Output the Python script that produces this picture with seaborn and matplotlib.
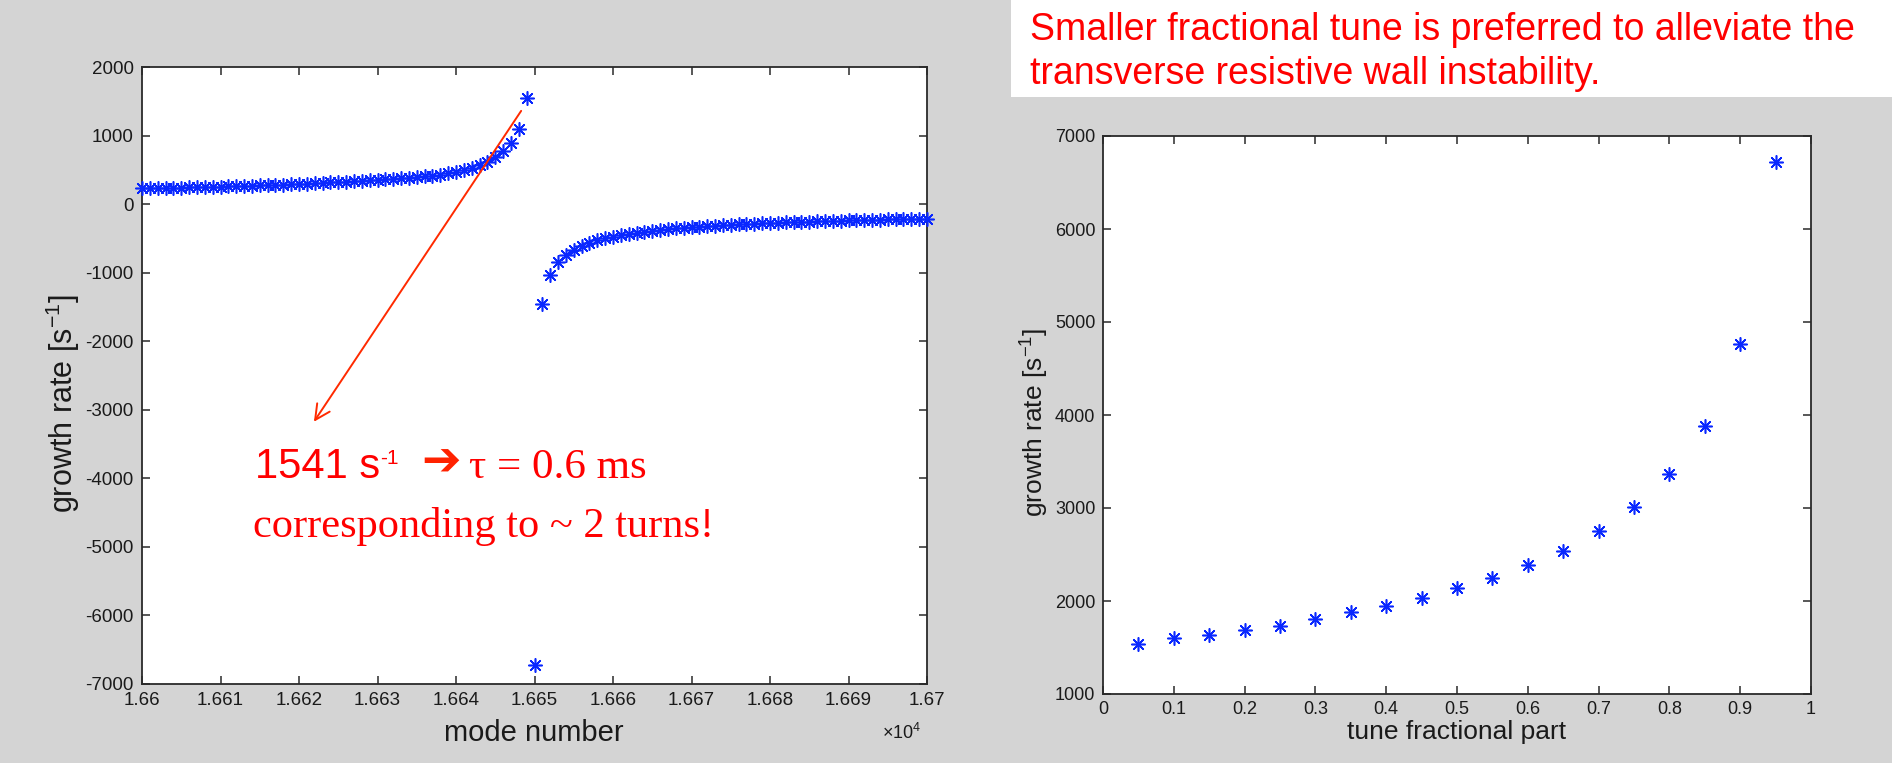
import numpy as np
import pandas as pd
import matplotlib
matplotlib.use("Agg")
import matplotlib.pyplot as plt
from matplotlib.patches import Rectangle
from matplotlib.ticker import FixedLocator, FuncFormatter
import seaborn as sns

# ---------------- data ----------------
# growth rate vs. mode number (below and above the resonance)
mode_low = list(range(16600, 16650))
rate_low = [230, 232, 234, 236, 238, 240, 243, 246, 249, 252,
            255, 258, 261, 264, 268, 272, 276, 280, 285, 290,
            295, 300, 305, 310, 316, 322, 328, 334, 340, 347,
            354, 361, 368, 376, 384, 393, 403, 415, 430, 450,
            475, 500, 530, 565, 620, 690, 770, 890, 1090, 1541]
mode_high = list(range(16650, 16701))
rate_high = [-6720, -1450, -1040, -850, -745, -670, -610, -565, -530, -500,
             -475, -452, -432, -415, -400, -386, -373, -362, -352, -343,
             -335, -327, -320, -313, -307, -301, -295, -290, -285, -280,
             -276, -272, -268, -264, -260, -256, -252, -248, -245, -242,
             -239, -236, -233, -230, -227, -224, -221, -218, -215, -212,
             -210]

# growth rate vs. fractional tune
tune_frac = [0.05, 0.10, 0.15, 0.20, 0.25, 0.30, 0.35, 0.40, 0.45, 0.50,
             0.55, 0.60, 0.65, 0.70, 0.75, 0.80, 0.85, 0.90, 0.95]
tune_rate = [1541, 1600, 1632, 1686, 1736, 1807, 1879, 1950, 2036, 2139,
             2243, 2386, 2539, 2750, 3011, 3361, 3886, 4760, 6720]

mode_ticks = list(range(16600, 16701, 10))
rate_ticks_left = list(range(-7000, 2001, 1000))
tune_ticks = [0, 0.1, 0.2, 0.3, 0.4, 0.5, 0.6, 0.7, 0.8, 0.9, 1.0]
rate_ticks_right = list(range(1000, 7001, 1000))

# arrow from the highest point down to the note
arrow_from = (16648.3, 1360)
arrow_to = (16621.9, -3175)

# ---------------- style ----------------
sns.set_theme(style="white")
plt.rcParams["font.family"] = ["Liberation Sans", "DejaVu Sans"]
plt.rcParams["mathtext.default"] = "regular"

BG = "#d4d4d4"
BLUE = "#0a28ff"
RED = "#ff0000"
AX_COL = "#2a2a2a"
W, H = 1892, 763

fig = plt.figure(figsize=(W / 100, H / 100), dpi=100, facecolor=BG)

def fx(px):
    return px / W

def fy(py):
    return 1 - py / H

ax1 = fig.add_axes([142 / W, (H - 684) / H, 785 / W, (684 - 67) / H])
ax2 = fig.add_axes([1103 / W, (H - 694) / H, 708 / W, (694 - 136) / H])

star = (8, 2, 0)
df_low = pd.DataFrame({"mode": mode_low, "rate": rate_low})
df_high = pd.DataFrame({"mode": mode_high, "rate": rate_high})
df_tune = pd.DataFrame({"tune": tune_frac, "rate": tune_rate})

for d in (df_low, df_high):
    sns.scatterplot(data=d, x="mode", y="rate", marker=star, s=95,
                    color=BLUE, linewidth=1.15, ax=ax1, zorder=3, clip_on=False)
sns.scatterplot(data=df_tune, x="tune", y="rate", marker=star, s=95,
                color=BLUE, linewidth=1.15, ax=ax2, zorder=3)

for ax in (ax1, ax2):
    ax.set_facecolor("white")
    ax.set_xlabel("")
    ax.set_ylabel("")
    for sp in ax.spines.values():
        sp.set_visible(True)
        sp.set_color(AX_COL)
        sp.set_linewidth(1.3)
    ax.tick_params(direction="in", length=5.5, width=1.1, color=AX_COL,
                   top=True, right=True, bottom=True, left=True,
                   labelcolor="#1a1a1a")

ax1.set_xlim(16600, 16700)
ax1.set_ylim(-7000, 2000)
ax1.xaxis.set_major_locator(FixedLocator(mode_ticks))
ax1.yaxis.set_major_locator(FixedLocator(rate_ticks_left))
ax1.xaxis.set_major_formatter(FuncFormatter(lambda v, p: f"{v / 1e4:g}"))
ax1.yaxis.set_major_formatter(FuncFormatter(lambda v, p: f"{v:.0f}"))
ax1.tick_params(axis="x", labelsize=13.5, pad=5.5)
ax1.tick_params(axis="y", labelsize=13.5, pad=6)

ax2.set_xlim(0, 1)
ax2.set_ylim(1000, 7000)
ax2.xaxis.set_major_locator(FixedLocator(tune_ticks))
ax2.yaxis.set_major_locator(FixedLocator(rate_ticks_right))
ax2.xaxis.set_major_formatter(FuncFormatter(lambda v, p: f"{v:g}"))
ax2.yaxis.set_major_formatter(FuncFormatter(lambda v, p: f"{v:.0f}"))
ax2.tick_params(axis="x", labelsize=13, pad=5)
ax2.tick_params(axis="y", labelsize=13, pad=5.5)

# axis labels
lab_font = ["Liberation Sans", "DejaVu Sans"]
fig.text(fx(534), fy(733), "mode number", ha="center", va="center",
         fontsize=21, color="#1a1a1a", family=lab_font)
fig.text(fx(902), fy(733), r"$\times$10$^{4}$", ha="center", va="center",
         fontsize=13, color="#1a1a1a", family=lab_font)
fig.text(fx(63), fy(404), r"growth rate [s$^{-1}$]", ha="center", va="center",
         rotation=90, fontsize=22, color="#1a1a1a", family=lab_font)
fig.text(fx(1457), fy(732), "tune fractional part", ha="center", va="center",
         fontsize=19, color="#1a1a1a", family=lab_font)
fig.text(fx(1035), fy(422), r"growth rate [s$^{-1}$]", ha="center", va="center",
         rotation=90, fontsize=19, color="#1a1a1a", family=lab_font)

# annotation arrow
ax1.annotate("", xy=arrow_to, xytext=arrow_from, xycoords="data",
             arrowprops=dict(arrowstyle="->,head_length=0.9,head_width=0.45",
                             color="#ff2a00", lw=1.4, shrinkA=0, shrinkB=0),
             zorder=4)

# note under the arrow
sans = ["Liberation Sans", "DejaVu Sans"]
serif = ["Liberation Serif", "DejaVu Serif"]
fig.text(fx(255), fy(478), "1541 s", fontsize=30, color=RED, family=sans,
         ha="left", va="baseline")
fig.text(fx(380), fy(464), "-1", fontsize=15, color=RED, family=sans,
         ha="left", va="baseline")
fig.text(fx(441), fy(463), "\u2794", fontsize=34, color="#ff2200",
         family=["DejaVu Sans"], weight="bold", ha="center", va="center")
fig.text(fx(469), fy(478), "\u03c4 = 0.6 ms", fontsize=31, color=RED,
         family=serif, ha="left", va="baseline")
fig.text(fx(253), fy(537), "corresponding to ~ 2 turns!", fontsize=30.5,
         color=RED, family=serif, ha="left", va="baseline")

# boxed remark, top right
fig.patches.append(Rectangle((fx(1011), fy(97)), 1 - fx(1011), fy(0) - fy(97),
                             transform=fig.transFigure, facecolor="white",
                             edgecolor="none", zorder=0))
fig.text(fx(1030), fy(40), "Smaller fractional tune is preferred to alleviate the",
         fontsize=27, color=RED, family=sans, ha="left", va="baseline")
fig.text(fx(1030), fy(84), "transverse resistive wall instability.",
         fontsize=27, color=RED, family=sans, ha="left", va="baseline")

fig.savefig("out.png", dpi=100, facecolor=BG)
